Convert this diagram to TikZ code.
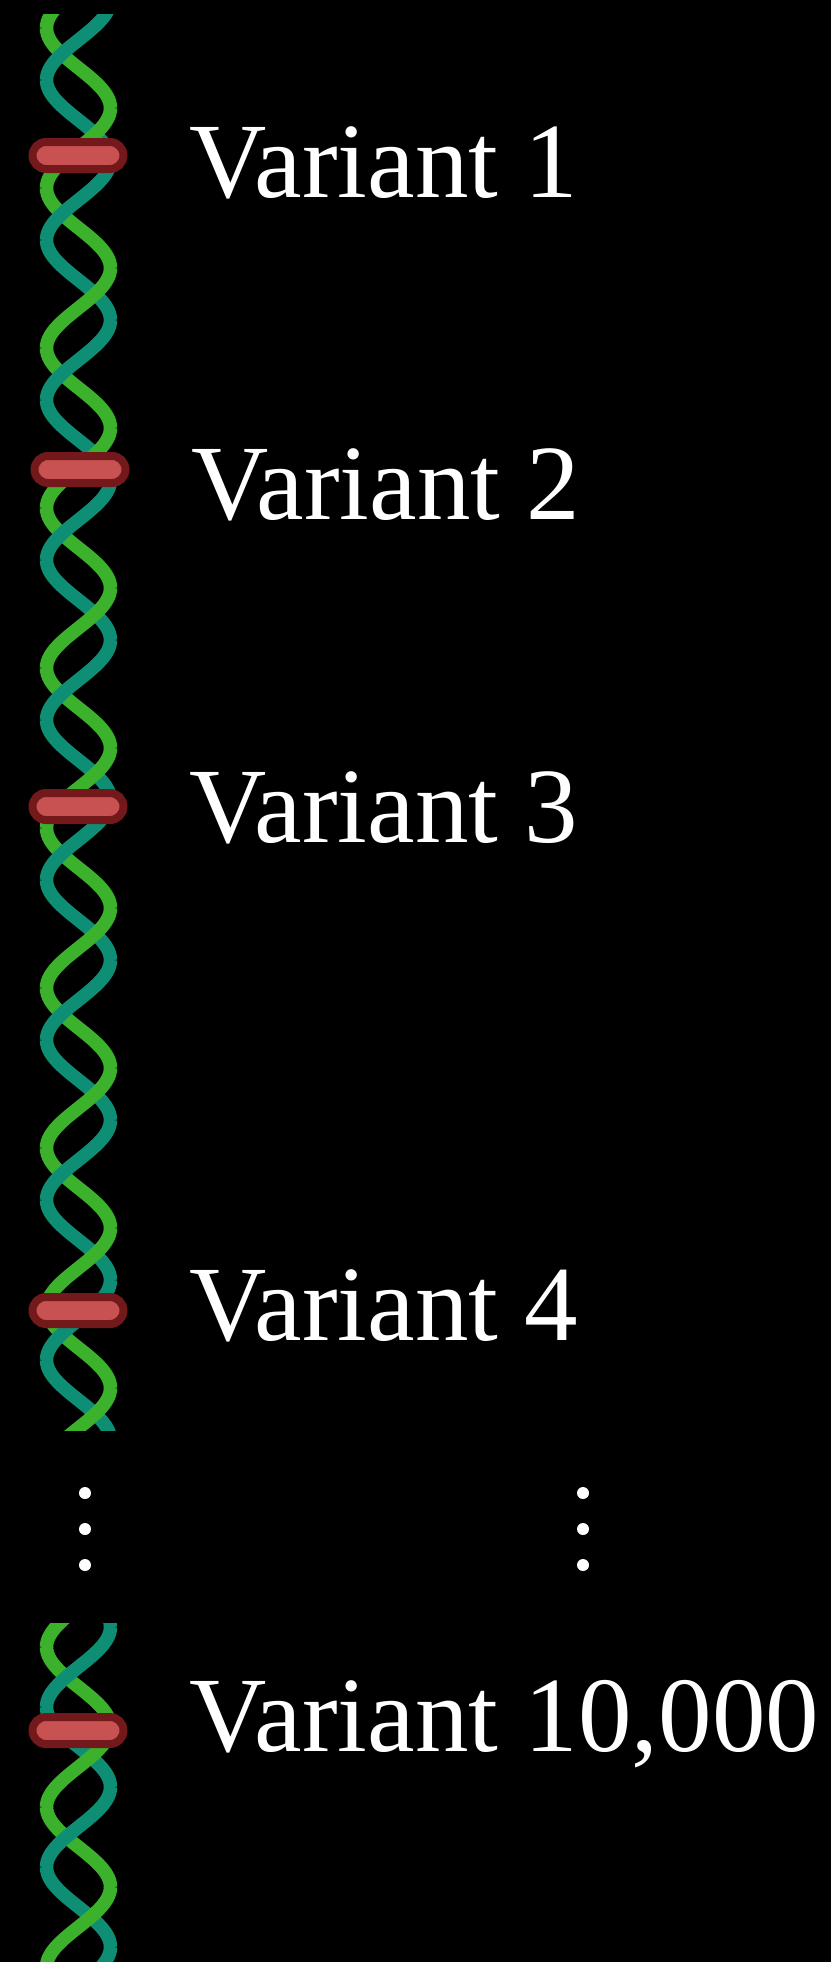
\documentclass[tikz,border=0pt]{standalone}
\usepackage{fontspec}
\setmainfont{Liberation Serif}
\usepackage{tikz}

\definecolor{dnateal}{RGB}{14,143,117}
\definecolor{dnagreen}{RGB}{60,178,44}
\definecolor{snpdark}{RGB}{115,25,28}
\definecolor{snplight}{RGB}{200,82,82}

% one stretch of double helix, cut flat at #1 and #2;
% #3, #4: where the teal and the green strand sit at their right-most point
\newcommand\helix[5]{%
  \begin{scope}
    \clip (0,#1) rectangle (160,#2);
    \foreach \half in {80,0}{% halves going right lie behind, draw them first
      \foreach \col/\ph in {dnateal/#3,dnagreen/#4}{
        \foreach \k in {-1,...,#5}{
          \pgfmathsetmacro\ya{\ph+160*\k+\half}
          \pgfmathsetmacro\yb{\ya+80}
          \draw[strand,\col] plot[domain=\ya:\yb] ({78.5+32*cos(2.25*(\x-\ph))},\x);
        }}}
  \end{scope}}

\begin{document}
\begin{tikzpicture}[x=1pt,y=-1pt,
    strand/.style={line width=13.5pt,samples=30,smooth},
    snp/.style={rectangle,rounded corners=13.5pt,minimum width=91pt,minimum height=27pt,
      inner sep=0pt,line width=8pt,draw=snpdark,fill=snplight},
    variant/.style={anchor=base west,inner sep=0pt,text=white,
      font=\fontsize{107}{112}\selectfont}]
  \useasboundingbox (0,0) rectangle (830,1962);
  \fill[black] (-10,-10) rectangle (840,1972);

  \helix{14}{1430}{0}{108}{9}
  \helix{1623}{1962}{1627}{1727}{2}

  \node[snp] (m1) at (78,155.5) {};
  \node[snp] (m2) at (80,469.5) {};
  \node[snp] (m3) at (78,806.5) {};
  \node[snp] (m4) at (78,1310.5) {};
  \node[snp] (m5) at (78,1730.5) {};

  \node[variant] (v1) at (189,197) {Variant 1};
  \node[variant] (v2) at (191,519) {Variant 2};
  \node[variant] (v3) at (189,842) {Variant 3};
  \node[variant] (v4) at (189,1340) {Variant 4};
  \node[variant] (v5) at (189,1751) {Variant 10,000};

  % the gap between variant 4 and the last one
  \foreach \y in {1493,1529,1565}{
    \fill[white] (85,\y) circle (6);
    \fill[white] (583,\y) circle (6);
  }
\end{tikzpicture}
\end{document}
